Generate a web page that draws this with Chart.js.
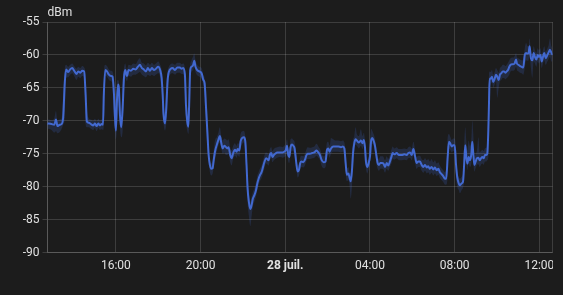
<!DOCTYPE html>
<html>
<head>
<meta charset="utf-8">
<script src="https://cdn.jsdelivr.net/npm/chart.js@4.4.1/dist/chart.umd.min.js"></script>
<style>
  html, body { margin: 0; padding: 0; background: #1c1c1c; }
  #clip { width: 553px; height: 295px; overflow: hidden; }
  canvas { display: block; }
</style>
</head>
<body>
<div id="clip"><canvas id="c" width="563" height="295"></canvas></div>
<script>
// Time in hours since 27 July 00:00
const times = [
12.68,12.80,12.96,13.09,13.17,13.24,13.35,13.43,13.51,13.59,13.65,13.75,13.84,13.94,14.03,14.14,14.22,14.32,14.41,14.50,
14.57,14.63,14.72,14.82,14.93,15.01,15.09,15.17,15.25,15.32,15.39,15.43,15.50,15.58,15.67,15.77,15.84,15.91,15.95,16.00,
16.05,16.10,16.14,16.19,16.25,16.32,16.38,16.44,16.52,16.60,16.71,16.82,16.93,17.04,17.13,17.23,17.32,17.42,17.51,17.61,
17.70,17.80,17.89,18.00,18.09,18.16,18.21,18.25,18.32,18.38,18.44,18.50,
18.68,18.79,18.90,19.02,19.10,19.18,19.26,19.31,19.37,19.42,19.46,19.51,19.57,19.65,19.70,19.76,19.84,19.94,20.05,20.13,
20.19,20.25,20.32,20.38,20.44,20.50,20.57,20.61,20.68,20.76,20.84,20.91,20.98,21.04,21.12,21.20,21.26,21.32,21.40,21.46,
21.54,21.62,21.70,21.75,21.83,21.89,21.97,22.05,22.11,22.17,22.22,22.28,22.35,22.41,22.47,22.54,22.62,22.68,22.74,22.80,
22.88,22.95,23.01,23.09,23.15,23.21,23.28,23.34,23.39,23.46,23.53,23.62,23.75,23.88,23.95,24.02,24.08,24.14,24.19,24.25,
24.32,24.38,24.44,
24.52,24.58,24.64,24.71,24.77,24.85,24.93,24.99,25.05,25.16,25.27,25.37,25.48,25.56,25.64,25.71,25.81,25.90,25.97,26.03,
26.09,26.16,26.27,26.38,26.50,26.63,26.72,26.79,26.85,26.91,26.98,27.04,27.09,27.15,27.20,27.26,27.32,27.38,27.48,27.57,
27.65,27.71,27.76,27.81,27.87,27.94,28.00,28.06,28.11,28.17,28.23,28.30,28.36,28.42,28.49,28.57,28.64,28.71,28.79,28.86,
28.94,29.02,29.07,29.15,29.26,29.37,29.50,29.62,29.73,29.81,29.89,29.97,30.05,30.13,30.20,30.28,
30.36,30.44,30.52,30.60,30.68,30.75,30.83,30.91,30.99,31.07,31.15,31.23,31.30,31.38,31.46,31.54,31.60,31.67,31.73,31.79,
31.86,31.93,32.00,32.06,32.12,32.19,32.25,32.33,32.39,32.45,32.50,32.55,32.60,32.66,32.72,32.79,32.83,32.88,32.93,32.99,
33.05,33.12,33.18,33.24,33.31,33.37,33.43,33.49,33.54,33.59,33.62,33.65,33.70,33.76,33.82,33.89,33.95,34.01,34.08,34.14,
34.20,34.27,34.33,34.39,34.46,34.52,34.58,34.64,34.71,34.77,34.83,34.90,34.94,35.01,35.09,35.16,35.24,35.31,35.37,35.43,
35.49,35.54,35.60,35.67,35.73,35.79,35.86,35.92,35.98,36.05,36.11,36.17,36.23,36.30,36.38,36.44,36.50,36.57,36.63
];
// Mean signal strength (dBm)
const rssi = [
-70.7,-70.4,-70.5,-70.6,-69.8,-70.8,-70.6,-70.5,-69.5,-64.0,-62.2,-62.6,-62.2,-62.0,-62.4,-62.9,-62.5,-62.7,-62.4,-62.5,
-66.0,-70.1,-70.3,-70.5,-70.7,-70.4,-70.8,-70.4,-70.7,-70.5,-70.6,-66.0,-62.3,-62.5,-63.0,-63.2,-63.3,-66.0,-69.0,-71.5,
-67.0,-64.5,-65.0,-69.0,-71.0,-68.0,-63.5,-62.3,-63.2,-62.3,-62.4,-62.1,-62.2,-61.8,-61.5,-62.0,-62.2,-62.5,-62.0,-62.4,
-62.0,-62.3,-62.1,-61.8,-62.3,-63.5,-66.0,-69.0,-70.4,-68.0,-64.0,-62.6,
-62.0,-62.3,-61.9,-61.9,-62.1,-62.0,-63.0,-67.6,-70.1,-70.9,-67.6,-62.3,-61.8,-61.5,-60.9,-61.8,-62.3,-62.5,-62.8,-63.8,
-64.3,-67.6,-71.7,-75.2,-76.7,-77.3,-77.2,-76.2,-74.7,-73.7,-72.9,-72.3,-73.4,-74.2,-73.8,-74.0,-74.2,-74.0,-75.2,-75.7,
-74.9,-74.4,-74.7,-74.3,-74.5,-73.1,-72.6,-72.5,-73.1,-76.7,-80.3,-82.3,-83.4,-82.8,-81.8,-81.3,-80.5,-79.5,-78.8,-78.3,
-77.8,-77.0,-76.3,-75.7,-75.8,-76.0,-75.1,-74.9,-75.5,-75.2,-75.0,-74.8,-74.8,-74.8,-74.7,-74.5,-73.8,-75.2,-75.5,-74.0,
-73.6,-73.8,-74.2,
-76.4,-77.7,-77.5,-76.4,-76.2,-76.3,-75.9,-75.3,-75.0,-75.0,-74.9,-74.8,-74.5,-74.8,-75.2,-75.9,-76.3,-76.2,-74.4,-74.2,
-74.7,-74.2,-73.9,-73.9,-73.9,-74.0,-73.9,-74.2,-76.4,-78.2,-78.0,-78.7,-79.2,-77.5,-74.9,-73.4,-72.8,-73.0,-73.3,-73.0,
-73.4,-72.9,-73.9,-76.2,-77.0,-76.4,-75.4,-72.9,-72.6,-73.0,-73.7,-75.2,-76.4,-76.7,-76.4,-76.4,-76.5,-77.0,-76.4,-76.8,
-76.2,-75.4,-74.9,-75.1,-74.9,-75.2,-75.2,-75.1,-75.2,-74.9,-74.8,-75.2,-74.3,-75.4,-76.4,-76.2,
-76.2,-76.7,-77.0,-76.7,-77.1,-76.9,-77.3,-77.0,-77.4,-77.1,-77.5,-77.3,-77.8,-78.1,-78.4,-78.8,-78.8,-75.5,-73.2,-73.4,
-73.9,-73.7,-73.7,-76.5,-78.5,-79.5,-79.8,-79.5,-79.3,-76.5,-73.7,-75.5,-76.5,-75.5,-76.0,-75.0,-73.2,-75.0,-76.7,-76.2,
-75.7,-75.6,-76.0,-75.7,-75.5,-75.7,-75.2,-75.2,-75.0,-71.4,-67.4,-63.6,-63.6,-63.3,-64.1,-63.6,-63.0,-63.3,-63.8,-63.0,
-62.8,-62.5,-62.5,-62.7,-62.5,-62.3,-61.8,-61.5,-61.4,-61.4,-61.3,-60.7,-61.3,-61.5,-61.7,-61.8,-61.9,-60.0,-59.7,-59.8,
-59.7,-58.7,-60.5,-60.8,-59.7,-60.3,-60.7,-60.0,-60.3,-60.0,-61.0,-60.3,-59.7,-60.5,-60.0,-59.6,-59.2,-59.7,-60.0
];
// Minimum signal strength per interval (dBm)
const rssiMin = [
-71.5,-71.2,-71.4,-71.8,-71.6,-71.9,-71.7,-71.3,-70.6,-69.5,-63.5,-63.4,-63.0,-62.8,-63.2,-63.8,-63.3,-63.5,-63.2,-63.4,
-70.5,-71.0,-71.0,-71.2,-71.4,-71.1,-71.6,-71.1,-71.4,-71.3,-71.4,-70.8,-63.2,-63.3,-63.8,-64.0,-64.5,-69.5,-71.5,-72.8,
-71.0,-66.5,-68.0,-71.0,-72.5,-71.5,-66.5,-63.5,-64.0,-63.2,-63.3,-63.0,-63.0,-62.8,-62.6,-63.0,-63.2,-63.4,-63.0,-63.2,
-63.0,-63.2,-63.0,-62.8,-63.5,-66.0,-69.0,-70.5,-71.5,-70.5,-68.0,-63.5,
-62.8,-63.0,-62.7,-62.7,-62.9,-62.9,-66.0,-70.0,-71.5,-72.0,-70.5,-64.0,-62.6,-62.3,-61.8,-62.6,-63.1,-63.3,-63.6,-64.6,
-65.5,-70.0,-74.0,-76.5,-77.8,-78.3,-78.0,-77.3,-76.0,-74.8,-73.8,-73.3,-74.3,-75.0,-74.8,-75.2,-75.2,-75.0,-76.3,-76.8,
-75.8,-75.3,-75.6,-75.2,-75.5,-74.3,-73.5,-73.3,-75.0,-79.0,-82.5,-84.5,-86.0,-84.5,-83.0,-82.3,-81.5,-80.5,-79.8,-79.2,
-78.7,-78.0,-77.3,-76.5,-76.6,-76.8,-76.0,-75.7,-76.3,-76.0,-75.8,-75.6,-75.5,-75.6,-75.5,-75.4,-75.0,-76.2,-76.4,-75.2,
-74.5,-74.7,-75.5,
-77.3,-78.6,-78.4,-77.4,-77.0,-77.1,-76.8,-76.2,-75.8,-75.8,-75.7,-75.6,-75.3,-75.6,-76.0,-76.8,-77.2,-77.0,-75.5,-75.1,
-75.6,-75.0,-74.7,-74.7,-74.7,-74.8,-74.7,-75.5,-78.0,-79.2,-79.0,-80.0,-81.8,-80.0,-77.0,-74.5,-73.6,-73.8,-74.2,-73.8,
-74.3,-73.8,-75.5,-77.2,-78.0,-77.3,-76.5,-74.0,-73.5,-73.8,-74.7,-76.5,-77.3,-77.6,-77.3,-77.3,-77.4,-77.9,-77.3,-77.6,
-77.0,-76.4,-75.8,-75.9,-75.7,-76.0,-76.0,-75.9,-76.0,-75.7,-75.6,-76.0,-75.3,-76.3,-77.3,-77.0,
-77.0,-77.6,-77.9,-77.6,-78.0,-77.8,-78.2,-77.9,-78.3,-78.0,-78.4,-78.2,-78.7,-79.0,-79.3,-79.7,-79.7,-78.5,-74.2,-74.4,
-74.8,-74.6,-75.0,-78.5,-80.0,-80.5,-81.0,-80.5,-80.2,-79.0,-75.5,-76.5,-77.5,-76.5,-77.0,-76.5,-75.0,-76.5,-77.7,-77.2,
-76.7,-76.6,-77.0,-76.7,-76.5,-76.7,-76.2,-76.2,-76.0,-75.5,-71.5,-66.0,-64.5,-64.2,-65.0,-64.5,-64.0,-66.5,-65.0,-64.0,
-63.8,-63.5,-63.5,-63.7,-63.5,-63.3,-63.0,-62.5,-62.4,-62.4,-62.3,-61.8,-62.3,-62.5,-62.7,-62.8,-63.0,-62.0,-60.8,-60.9,
-60.8,-60.0,-62.0,-63.5,-61.0,-61.3,-61.8,-61.0,-61.3,-61.0,-62.0,-61.3,-60.8,-61.5,-61.0,-60.6,-60.3,-61.0,-61.0
];
// Maximum signal strength per interval (dBm)
const rssiMax = [
-70.0,-69.8,-69.9,-69.6,-68.5,-70.0,-69.8,-69.7,-66.0,-62.0,-61.5,-61.8,-61.5,-61.3,-61.7,-62.1,-61.8,-62.0,-61.7,-61.9,
-62.8,-68.0,-69.6,-69.8,-70.0,-69.7,-70.1,-69.7,-70.0,-69.8,-69.8,-62.5,-61.5,-61.7,-62.2,-62.4,-62.5,-63.5,-65.0,-68.0,
-64.0,-63.8,-64.0,-66.0,-68.5,-64.0,-62.0,-61.3,-62.2,-61.5,-61.6,-61.3,-61.4,-60.8,-60.5,-61.2,-61.3,-61.6,-61.2,-61.5,
-61.2,-61.5,-61.3,-61.0,-61.5,-62.2,-63.5,-66.5,-69.0,-64.5,-62.5,-61.8,
-61.3,-61.5,-61.2,-61.2,-61.4,-61.3,-62.0,-64.0,-68.0,-69.5,-63.5,-61.5,-60.8,-60.2,-59.8,-60.8,-61.5,-61.8,-62.0,-63.0,
-63.5,-65.0,-68.5,-73.0,-75.8,-76.5,-76.0,-74.8,-73.0,-72.5,-71.8,-71.0,-72.3,-73.0,-72.7,-72.8,-73.0,-72.8,-74.0,-74.5,
-73.8,-73.4,-73.8,-73.4,-73.5,-72.0,-71.6,-71.5,-72.3,-74.0,-78.0,-80.5,-82.3,-81.5,-80.8,-80.3,-79.3,-78.3,-77.8,-77.3,
-76.8,-76.0,-75.3,-74.8,-74.9,-75.1,-74.2,-74.0,-74.6,-74.3,-74.1,-74.0,-73.9,-74.0,-73.8,-73.5,-72.8,-74.0,-74.5,-72.8,
-72.7,-72.9,-73.2,
-75.0,-76.8,-76.5,-75.5,-75.3,-75.4,-75.0,-74.4,-74.0,-74.1,-74.0,-73.9,-73.5,-73.9,-74.3,-75.0,-75.4,-75.0,-73.3,-73.2,
-73.8,-72.6,-72.8,-73.0,-73.0,-73.1,-73.0,-73.3,-74.5,-77.2,-77.0,-77.8,-78.0,-75.0,-73.0,-72.3,-71.0,-72.0,-72.3,-71.3,
-72.3,-71.8,-72.8,-74.5,-76.0,-75.3,-73.0,-71.2,-71.5,-72.0,-72.6,-74.0,-75.4,-75.8,-75.4,-75.4,-75.5,-76.0,-75.4,-75.8,
-75.2,-74.3,-73.9,-74.2,-74.0,-74.3,-74.3,-74.2,-74.3,-74.0,-73.9,-74.2,-73.2,-74.4,-75.5,-75.3,
-75.3,-75.8,-76.0,-75.7,-76.0,-75.8,-76.2,-75.8,-76.3,-76.0,-76.5,-76.3,-76.8,-77.2,-77.5,-77.8,-77.0,-72.5,-72.0,-72.4,
-72.9,-72.7,-72.7,-74.0,-77.5,-78.5,-78.8,-78.5,-78.0,-73.5,-71.0,-73.0,-74.5,-73.0,-73.8,-72.5,-70.0,-72.0,-75.5,-75.0,
-74.5,-72.5,-74.8,-74.6,-74.4,-74.6,-74.2,-74.1,-73.8,-67.0,-63.0,-62.5,-62.6,-62.3,-63.0,-62.6,-62.0,-62.3,-62.7,-62.0,
-61.8,-61.5,-61.5,-61.7,-61.5,-61.2,-60.8,-60.5,-60.4,-60.4,-60.2,-59.7,-60.3,-60.5,-60.7,-60.8,-60.8,-59.0,-58.2,-58.6,
-58.7,-57.5,-59.5,-59.8,-58.7,-59.3,-59.7,-59.0,-59.3,-59.0,-60.0,-59.3,-58.7,-59.5,-59.0,-58.5,-57.5,-58.7,-59.0
];
const tickHours = [16, 20, 24, 28, 32, 36];
const tickLabels = ['16:00', '20:00', '28 juil.', '04:00', '08:00', '12:00'];
const boldTick = 24;
const xMin = 12.77, xMax = 36.62;
const yMin = -90, yMax = -55, yStep = 5;
const unitLabel = 'dBm';

const textColor = '#e1e1e1';
const gridColor = 'rgba(255,255,255,0.15)';
const lineColor = '#4269d0';
const bandColor = 'rgba(66,105,208,0.2)';

const toPts = (arr) => times.map((t, i) => ({ x: t, y: arr[i] }));

const unitPlugin = {
  id: 'unitLabel',
  afterDraw(chart) {
    const ctx = chart.ctx;
    ctx.save();
    ctx.font = '12px Roboto';
    ctx.fillStyle = textColor;
    ctx.textAlign = 'left';
    ctx.textBaseline = 'middle';
    ctx.fillText(unitLabel, chart.chartArea.left, 13);
    ctx.restore();
  }
};

new Chart(document.getElementById('c'), {
  type: 'line',
  data: {
    datasets: [{
      data: toPts(rssi),
      borderColor: lineColor,
      borderWidth: 2,
      pointRadius: 0,
      fill: false,
      order: 0,
      cubicInterpolationMode: 'monotone'
    }, {
      data: toPts(rssiMax),
      borderWidth: 0,
      borderColor: 'rgba(0,0,0,0)',
      backgroundColor: bandColor,
      pointRadius: 0,
      fill: '+1',
      order: 1,
      cubicInterpolationMode: 'monotone'
    }, {
      data: toPts(rssiMin),
      borderWidth: 0,
      borderColor: 'rgba(0,0,0,0)',
      pointRadius: 0,
      fill: false,
      order: 1,
      cubicInterpolationMode: 'monotone'
    }]
  },
  options: {
    responsive: false,
    animation: false,
    devicePixelRatio: 1,
    layout: { padding: { top: 22, right: 10.5, left: 0, bottom: 0 } },
    plugins: { legend: { display: false }, tooltip: { enabled: false } },
    scales: {
      x: {
        type: 'linear',
        min: xMin, max: xMax,
        afterBuildTicks(scale) {
          scale.ticks = [xMin, ...tickHours, xMax].map(v => ({ value: v }));
        },
        afterFit(scale) { scale.height = 42.5; },
        grid: { color: gridColor, drawTicks: false },
        border: { color: gridColor },
        ticks: {
          color: textColor,
          padding: 6,
          maxRotation: 0,
          autoSkip: false,
          font: (c) => ({ family: 'Roboto', size: 12, weight: (c.tick && c.tick.value === boldTick) ? 'bold' : 'normal' }),
          callback: (v) => { const i = tickHours.indexOf(v); return i >= 0 ? tickLabels[i] : ''; }
        }
      },
      y: {
        min: yMin, max: yMax,
        afterFit(scale) { scale.width = 47.5; },
        grid: { color: gridColor, tickLength: 5 },
        border: { color: gridColor },
        ticks: {
          stepSize: yStep,
          color: textColor,
          padding: 3,
          font: { family: 'Roboto', size: 12 }
        }
      }
    }
  },
  plugins: [unitPlugin]
});
</script>
</body>
</html>
